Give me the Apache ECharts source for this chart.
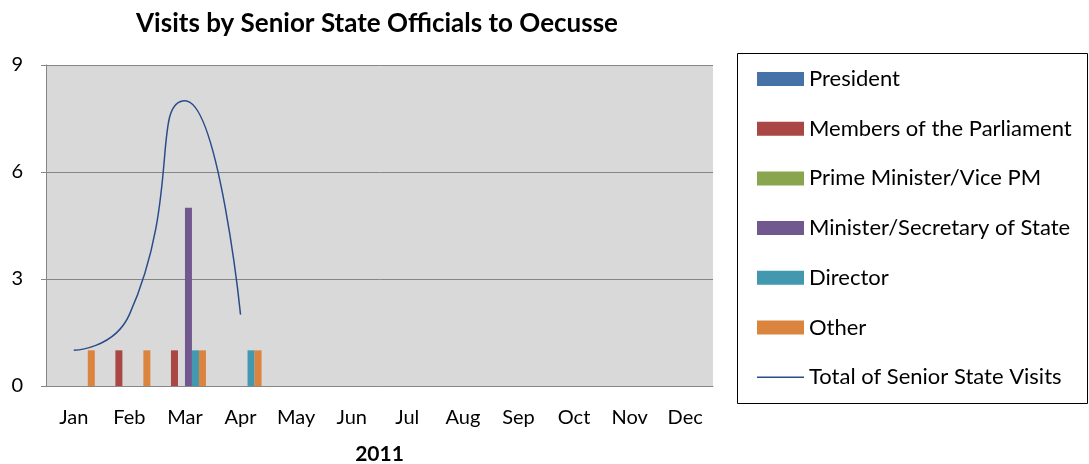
<!DOCTYPE html>
<html>
<head>
<meta charset="utf-8">
<script src="https://cdn.jsdelivr.net/npm/echarts@6/dist/echarts.min.js"></script>
<style>
  html, body { margin: 0; padding: 0; background: #fff; }
  #chart { width: 1089px; height: 464px; }
</style>
</head>
<body>
<div id="chart"></div>
<script>
const months = ['Jan', 'Feb', 'Mar', 'Apr', 'May', 'Jun', 'Jul', 'Aug', 'Sep', 'Oct', 'Nov', 'Dec']
const president = [0, 0, 0, 0, 0, 0, 0, 0, 0, 0, 0, 0]
const members = [0, 1, 1, 0, 0, 0, 0, 0, 0, 0, 0, 0]
const primeMinister = [0, 0, 0, 0, 0, 0, 0, 0, 0, 0, 0, 0]
const minister = [0, 0, 5, 0, 0, 0, 0, 0, 0, 0, 0, 0]
const director = [0, 0, 1, 1, 0, 0, 0, 0, 0, 0, 0, 0]
const other = [1, 1, 1, 1, 0, 0, 0, 0, 0, 0, 0, 0]
const totalVisits = [1, 2, 8, 2]
const yTicks = [0, 3, 6, 9]

const font = 'Lato, "Open Sans", sans-serif'
const lineColor = '#2a4d8a'

const barSeries = [
  { name: 'President', data: president, color: '#4572a7' },
  { name: 'Members of the Parliament', data: members, color: '#aa4643' },
  { name: 'Prime Minister/Vice PM', data: primeMinister, color: '#89a54e' },
  { name: 'Minister/Secretary of State', data: minister, color: '#71588f' },
  { name: 'Director', data: director, color: '#4198af' },
  { name: 'Other', data: other, color: '#db843d' }
].map(s => ({
  name: s.name,
  type: 'bar',
  data: s.data,
  barWidth: 7,
  barGap: '0%',
  itemStyle: { color: s.color }
}))

const chart = echarts.init(document.getElementById('chart'))
chart.setOption({
  animation: false,
  title: {
    text: 'Visits by Senior State Officials to Oecusse',
    left: 372,
    top: 6,
    textAlign: 'center',
    textStyle: { fontFamily: font, fontSize: 26, fontWeight: 'bold', color: '#000' }
  },
  graphic: [{
    type: 'rect',
    shape: { x: 737.5, y: 53.5, width: 350, height: 350 },
    style: { fill: 'none', stroke: '#000', lineWidth: 1 }
  }],
  legend: {
    orient: 'vertical',
    left: 752,
    top: 63,
    itemWidth: 47,
    itemHeight: 14,
    itemGap: 27.7,
    textStyle: { fontFamily: font, fontSize: 22, color: '#000', lineHeight: 22 },
    data: barSeries.map(s => ({ name: s.name, icon: 'rect' })).concat([{
      name: 'Total of Senior State Visits',
      icon: 'path://M0,0 L47,0 L47,1.5 L0,1.5 Z'
    }])
  },
  grid: {
    left: 46, right: 376, top: 65, bottom: 78,
    outerBoundsMode: 'none',
    show: true, backgroundColor: '#d9d9d9', borderWidth: 0
  },
  xAxis: {
    type: 'category',
    data: months,
    name: '2011',
    nameLocation: 'middle',
    nameGap: 58,
    nameTextStyle: { fontFamily: font, fontSize: 21, fontWeight: 'bold', color: '#000' },
    axisLine: { lineStyle: { color: '#868686' } },
    axisTick: { length: 6, lineStyle: { color: '#868686' } },
    axisLabel: { fontFamily: font, fontSize: 20, color: '#000', margin: 22 }
  },
  yAxis: {
    type: 'value',
    min: yTicks[0],
    max: yTicks[yTicks.length - 1],
    interval: 3,
    axisLine: { show: true, lineStyle: { color: '#868686' } },
    axisTick: { show: true, length: 5, lineStyle: { color: '#868686' } },
    splitLine: { lineStyle: { color: '#868686' } },
    axisLabel: { fontFamily: font, fontSize: 20, color: '#000', margin: 23 }
  },
  series: barSeries.concat([{
    name: 'Total of Senior State Visits',
    type: 'line',
    data: totalVisits,
    smooth: 0.6,
    symbol: 'none',
    lineStyle: { color: lineColor, width: 1.5 },
    itemStyle: { color: lineColor }
  }])
})
</script>
</body>
</html>
